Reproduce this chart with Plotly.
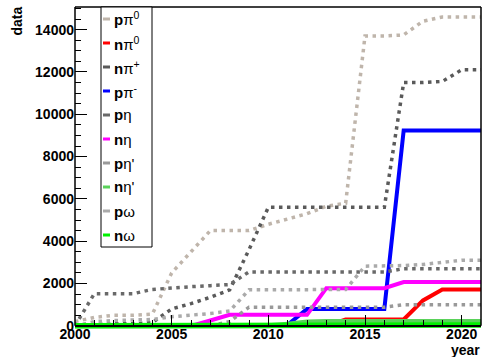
import plotly.graph_objects as go

# Cumulative number of data points per reaction channel, by year
years = list(range(2000, 2022))

p_pi0 = [200, 400, 500, 500, 550, 2500, 3500, 4500, 4500, 4500, 4800, 5050,
         5300, 5650, 5800, 13700, 13700, 13750, 14400, 14600, 14600, 14600]
n_pi0 = [0, 0, 0, 0, 0, 0, 0, 0, 0, 0, 0, 0,
         0, 0, 300, 300, 300, 300, 1200, 1720, 1720, 1720]
n_pip = [0, 50, 100, 100, 150, 800, 1050, 1350, 1700, 3600, 5600, 5600,
         5600, 5600, 5600, 5600, 5600, 11500, 11500, 11550, 12100, 12100]
p_pim = [0, 0, 0, 0, 0, 0, 0, 0, 0, 0, 0, 50,
         800, 800, 800, 800, 800, 9230, 9230, 9230, 9230, 9230]
p_eta = [0, 1520, 1520, 1520, 1720, 1800, 1850, 1900, 1950, 2550, 2550, 2550,
         2550, 2550, 2550, 2550, 2550, 2700, 2700, 2700, 2700, 2700]
n_eta = [0, 0, 0, 0, 0, 0, 0, 250, 520, 520, 520, 520,
         520, 1780, 1780, 1780, 1780, 2070, 2070, 2070, 2070, 2070]
p_etap = [0, 0, 0, 0, 0, 0, 0, 0, 200, 880, 880, 880,
          880, 880, 880, 880, 880, 1000, 1000, 1000, 1000, 1000]
n_etap = [0, 0, 0, 0, 0, 0, 0, 0, 0, 0, 0, 80,
          180, 200, 200, 200, 200, 200, 200, 200, 200, 200]
p_omega = [0, 200, 250, 280, 300, 430, 500, 580, 700, 1700, 1700, 1700,
           1700, 1700, 1720, 2820, 2820, 2850, 2900, 2980, 3100, 3100]
n_omega = [0, 0, 0, 0, 0, 0, 0, 0, 0, 0, 0, 0,
           0, 0, 0, 0, 40, 40, 40, 40, 40, 40]

labels = ["<b>p</b>π<sup>0</sup>", "<b>n</b>π<sup>0</sup>", "<b>n</b>π<sup>+</sup>",
          "<b>p</b>π<sup>-</sup>", "<b>p</b>η", "<b>n</b>η", "<b>p</b>η'",
          "<b>n</b>η'", "<b>p</b>ω", "<b>n</b>ω"]
series = [p_pi0, n_pi0, n_pip, p_pim, p_eta, n_eta, p_etap, n_etap, p_omega, n_omega]
colors = ["#bfb5ab", "#ff0000", "#5a5a5a", "#0000ff", "#696969",
          "#ff00ff", "#999999", "#5ad25a", "#aaaaaa", "#00f000"]
dotted = [True, False, True, False, True, False, True, False, True, False]
widths = [3.5, 4, 3.5, 4, 3.5, 4, 3.5, 5, 3.5, 5.5]

X_RANGE = [2000, 2021]
Y_MIN, Y_MAX = -150, 15070   # small slack below zero so thick lines at 0 are not clipped

W, H = 482, 357
L, R, T, B = 75, 1, 7, 28
FONT = "Liberation Sans, Arial, sans-serif"

fig = go.Figure()
for name, ys, col, dot, wd in zip(labels, series, colors, dotted, widths):
    fig.add_trace(go.Scatter(
        x=years, y=ys, mode="lines", name=name, showlegend=False,
        line=dict(color=col, width=wd,
                  dash="3.5px,4.5px" if dot else "solid"),
    ))

# pixel -> paper helpers for the legend box
pw, ph = W - L - R, H - T - B
def px(x):
    return (x - L) / pw
def py(y):
    return 1 - (y - T) / ph

zero_pos = (0 - Y_MIN) / (Y_MAX - Y_MIN)   # paper height of the value 0

shapes = [
    # frame: left, right, top
    dict(type="line", xref="paper", yref="y", x0=0, x1=0, y0=0, y1=Y_MAX,
         line=dict(color="black", width=1.5), layer="above"),
    dict(type="line", xref="paper", yref="y", x0=1, x1=1, y0=0, y1=Y_MAX,
         line=dict(color="black", width=1.5), layer="above"),
    dict(type="line", xref="paper", yref="paper", x0=0, x1=1, y0=1, y1=1,
         line=dict(color="black", width=1.5), layer="above"),
    # legend box
    dict(type="rect", xref="paper", yref="paper",
         x0=px(101), x1=px(152), y0=py(7), y1=py(247),
         line=dict(color="black", width=1), fillcolor="white", layer="above"),
]
annotations = []
for i, (name, col) in enumerate(zip(labels, colors)):
    yc = 19 + i * 24
    shapes.append(dict(type="line", xref="paper", yref="paper",
                       x0=px(103), x1=px(110), y0=py(yc), y1=py(yc),
                       line=dict(color=col, width=3), layer="above"))
    annotations.append(dict(text=name, xref="paper", yref="paper",
                            x=px(112), y=py(yc), xanchor="left", yanchor="middle",
                            showarrow=False, font=dict(family=FONT, size=15, color="black")))

annotations.append(dict(text="<b>data</b>", xref="paper", yref="paper",
                        x=px(16), y=py(5), xanchor="center", yanchor="top",
                        textangle=-90, showarrow=False,
                        font=dict(family=FONT, size=14, color="black")))
annotations.append(dict(text="<b>year</b>", xref="paper", yref="paper",
                        x=px(482), y=py(340), xanchor="right", yanchor="top",
                        showarrow=False,
                        font=dict(family=FONT, size=14, color="black")))

tickfont = dict(family=FONT, size=14, color="black", weight="bold")
fig.update_layout(
    width=W, height=H,
    margin=dict(l=L, r=R, t=T, b=B),
    paper_bgcolor="white", plot_bgcolor="white",
    shapes=shapes, annotations=annotations,
    xaxis=dict(range=X_RANGE, tickmode="linear", tick0=2000, dtick=5,
               anchor="free", position=zero_pos,
               ticks="inside", ticklen=10, tickwidth=1, tickcolor="black",
               minor=dict(dtick=1, tick0=2000, ticks="inside", ticklen=5,
                          tickcolor="black", tickwidth=1),
               showline=True, linecolor="black", linewidth=1.5,
               ticklabelstandoff=-4,
               showgrid=False, zeroline=False, tickfont=tickfont),
    yaxis=dict(range=[Y_MIN, Y_MAX], tickmode="linear", tick0=0, dtick=2000,
               tickformat="d",
               ticks="inside", ticklen=12, tickwidth=1, tickcolor="black",
               minor=dict(dtick=500, tick0=0, ticks="inside", ticklen=6,
                          tickcolor="black", tickwidth=1),
               showline=False,
               showgrid=False, zeroline=False, tickfont=tickfont),
)

fig.write_html("out.html")
